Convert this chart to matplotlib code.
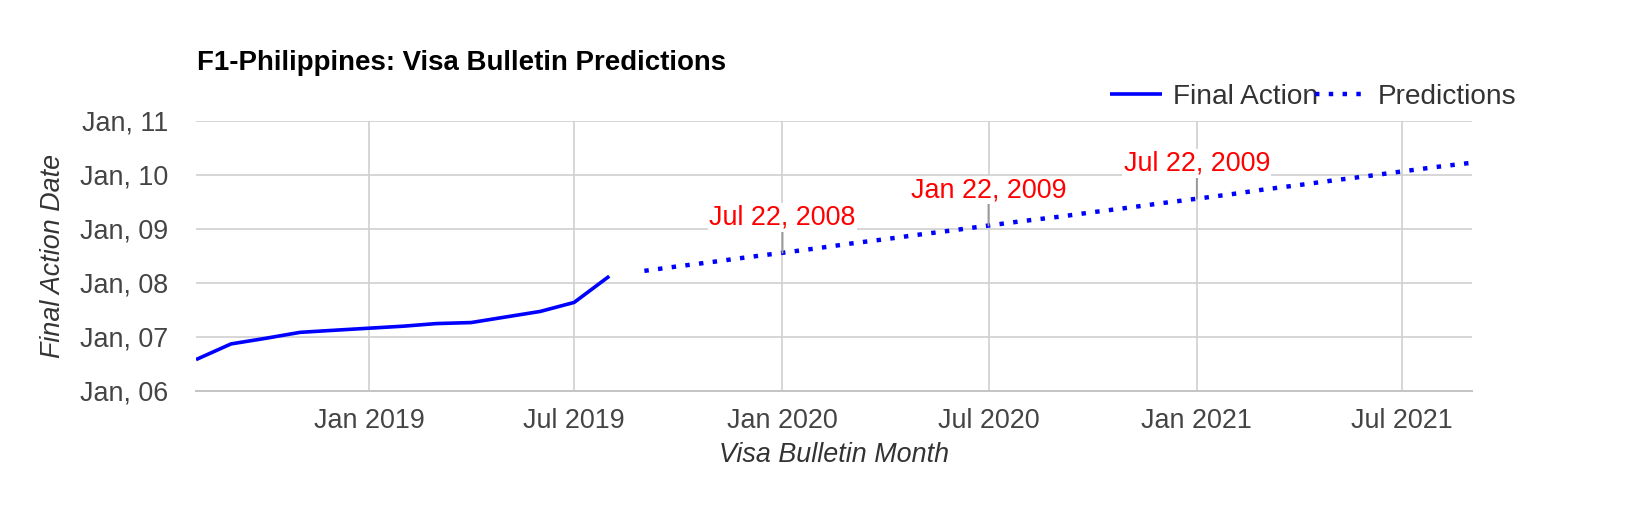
import matplotlib
matplotlib.use('Agg')
import matplotlib.pyplot as plt
import matplotlib.dates as mdates
import pandas as pd

plt.rcParams['font.family'] = ['Liberation Sans', 'DejaVu Sans']

# Final action dates published in the visa bulletin
fa_months = ['2018-08-01', '2018-09-01', '2018-10-01', '2018-11-01', '2018-12-01',
             '2019-01-01', '2019-02-01', '2019-03-01', '2019-04-01', '2019-05-01',
             '2019-06-01', '2019-07-01', '2019-08-01']
fa_dates = ['2006-08-01', '2006-11-15', '2006-12-22', '2007-02-01', '2007-02-15',
            '2007-03-01', '2007-03-15', '2007-04-01', '2007-04-08', '2007-05-15',
            '2007-06-22', '2007-08-22', '2008-02-15']

# Predicted final action dates
pred_months = ['2019-09-01', '2019-10-01', '2019-11-01', '2019-12-01', '2020-01-01',
               '2020-02-01', '2020-03-01', '2020-04-01', '2020-05-01', '2020-06-01',
               '2020-07-01', '2020-08-01', '2020-09-01', '2020-10-01', '2020-11-01',
               '2020-12-01', '2021-01-01', '2021-02-01', '2021-03-01', '2021-04-01',
               '2021-05-01', '2021-06-01', '2021-07-01', '2021-08-01', '2021-09-01']
pred_dates = ['2008-03-22', '2008-04-22', '2008-05-22', '2008-06-22', '2008-07-22',
              '2008-08-22', '2008-09-22', '2008-10-22', '2008-11-22', '2008-12-22',
              '2009-01-22', '2009-02-22', '2009-03-22', '2009-04-22', '2009-05-22',
              '2009-06-22', '2009-07-22', '2009-08-22', '2009-09-22', '2009-10-22',
              '2009-11-22', '2009-12-22', '2010-01-22', '2010-02-22', '2010-03-22']

# months that get a labelled callout
note_months = ['2020-01-01', '2020-07-01', '2021-01-01']

fa_x = pd.to_datetime(fa_months)
fa_y = pd.to_datetime(fa_dates)
pr_x = pd.to_datetime(pred_months)
pr_y = pd.to_datetime(pred_dates)

W, H = 1628, 516
fig = plt.figure(figsize=(W / 100, H / 100), dpi=100)
ax = fig.add_axes([196 / W, 1 - 391 / H, 1276 / W, 270.5 / H])

ax.plot(fa_x, fa_y, color='#0000ff', lw=2.6, label='Final Action', solid_capstyle='butt')
ax.plot(pr_x, pr_y, color='#0000ff', lw=3.2, linestyle=(0, (1, 2.1)),
        dash_capstyle='butt', label='Predictions')

for m in note_months:
    i = list(pred_months).index(m)
    xd, yd = pr_x[i], pr_y[i]
    ax.annotate(yd.strftime('%b %d, %Y'), xy=(xd, yd), xytext=(0, 20.5),
                textcoords='offset points', ha='center', va='baseline',
                color='#ff0000', fontsize=19.4,
                bbox=dict(boxstyle='square,pad=0.05', fc='white', ec='none'),
                arrowprops=dict(arrowstyle='-', color='#999999', lw=1.4,
                                shrinkA=0, shrinkB=0))

ax.set_xlim(pd.Timestamp('2018-08-01'), pd.Timestamp('2021-09-01'))
ax.set_ylim(pd.Timestamp('2006-01-01'), pd.Timestamp('2011-01-01'))

ax.xaxis.set_major_locator(mdates.MonthLocator(bymonth=[1, 7]))
ax.xaxis.set_major_formatter(mdates.DateFormatter('%b %Y'))
ax.yaxis.set_major_locator(mdates.YearLocator())
ax.yaxis.set_major_formatter(mdates.DateFormatter('%b, %y'))

ax.grid(True, color='#d0d0d0', lw=1.2)
ax.set_axisbelow(True)
for side in ['top', 'right', 'left']:
    ax.spines[side].set_visible(False)
ax.spines['bottom'].set_color('#c4c4c4')
ax.spines['bottom'].set_linewidth(1.4)
ax.tick_params(axis='both', length=0, labelsize=19.4, colors='#444444')
ax.tick_params(axis='y', pad=20)
ax.tick_params(axis='x', pad=12)

fig.text(197 / W, 1 - 63 / H, 'F1-Philippines: Visa Bulletin Predictions',
         fontsize=19.9, fontweight='bold', color='black', va='center', ha='left')
fig.text(53 / W, 1 - 256 / H, 'Final Action Date', rotation=90, fontsize=19.4,
         style='italic', color='#333333', ha='center', va='center')
fig.text(834 / W, 1 - 455 / H, 'Visa Bulletin Month', fontsize=19.4,
         style='italic', color='#333333', ha='center', va='center')

leg = ax.legend(loc='center left', bbox_to_anchor=(1096 / W, 1 - 97 / H),
                bbox_transform=fig.transFigure, ncol=2, frameon=False,
                fontsize=20.2, borderpad=0, handlelength=1.85,
                handletextpad=0.4, columnspacing=-0.13)
for t in leg.get_texts():
    t.set_color('#333333')

fig.savefig('out.png', dpi=100)
